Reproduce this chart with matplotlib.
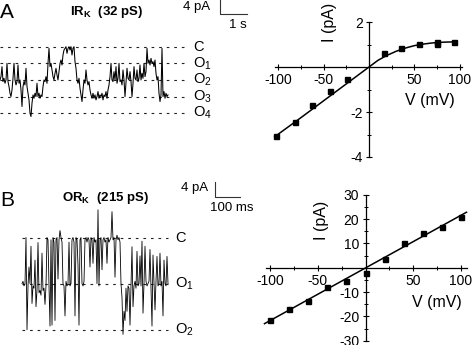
import numpy as np
import matplotlib
matplotlib.use("Agg")
import matplotlib.pyplot as plt
from matplotlib.ticker import FixedLocator, NullFormatter

plt.rcParams["font.family"] = ["Liberation Sans", "DejaVu Sans"]
plt.rcParams["mathtext.fontset"] = "custom"
plt.rcParams["mathtext.rm"] = "Liberation Sans"
plt.rcParams["mathtext.bf"] = "Liberation Sans:bold"
plt.rcParams["mathtext.default"] = "regular"
plt.rcParams["axes.unicode_minus"] = False

# ---------------------------------------------------------------------------
# data
# ---------------------------------------------------------------------------

# panel A trace, one sample per pixel, in conductance levels (0 = C, 1 = O1 ...)
trace_a_levels = [
    2.0, 1.8, 1.2, 2.1, 1.9, 2.2, 2.0, 1.0, 2.1, 2.4,
    2.8, 3.0, 2.6, 1.9, 1.0, 2.0, 2.3, 2.1, 1.1, 2.2,
    2.0, 2.6, 3.6, 2.4, 2.1, 2.3, 1.3, 2.4, 2.8, 3.2,
    4.0, 4.2, 3.4, 2.9, 3.1, 2.8, 3.0, 2.2, 3.0, 2.8,
    3.1, 2.9, 3.0, 2.4, 2.0, 2.1, 1.8, 2.2, 1.0, 0.1,
    1.2, 1.0, 1.4, 1.8, 2.0, 1.6, 1.3, 1.7, 2.0, 1.5,
    1.0, 0.8, 1.1, 0.5, 0.2, 0.1, 0.0, 0.4, 0.1, 0.0,
    0.2, 0.0, 0.5, 0.1, 0.0, 0.9, 1.3, 2.0, 2.2, 1.9,
    2.5, 2.9, 3.3, 2.6, 2.0, 2.2, 1.4, 2.0, 2.3, 2.1,
    2.6, 2.9, 3.1, 2.8, 3.1, 2.9, 3.2, 3.0, 2.7, 3.1,
    2.9, 3.0, 2.8, 3.2, 2.9, 3.0, 2.7, 3.1, 2.6, 2.3,
    1.8, 1.0, 2.0, 2.1, 1.5, 2.0, 1.2, 2.2, 1.9, 1.0,
    2.1, 2.0, 2.3, 1.4, 2.0, 3.0, 2.1, 1.3, 1.9, 2.0,
    1.5, 2.1, 3.0, 2.2, 1.2, 1.9, 2.0, 1.4, 2.1, 1.9,
    1.1, 2.0, 1.6, 1.9, 1.0, 1.8, 1.5, 0.1, 1.0, 0.8,
    1.1, 0.7, 1.0, 0.9, 1.2, 0.8, 1.6, 2.0, 1.8, 2.8,
    3.3, 2.9, 0.1, 3.0, 2.7, 3.1, 2.8, 3.0, 2.9,
]
unit_a = 4.75          # pA per level
levels_a = ["C", "O$_1$", "O$_2$", "O$_3$", "O$_4$"]

# panel B trace, one sample per pixel, in levels (0 = C, 1 = O1, 2 = O2)
trace_b_levels = [
    1.00, 0.95, 1.05, 1.00, 0.00, 2.00, 1.05, 0.64, 1.00, 0.19,
    1.43, 1.05, 1.10, 0.49, 1.50, 1.15, 0.11, 1.20, 1.15, 1.25,
    0.34, 1.15, 1.10, 1.45, 1.05, 0.00, 0.05, 1.05, 1.92, 0.05,
    1.90, 0.00, 0.10, 1.80, 0.05, 0.00, 0.90, 0.05, -0.15, 0.00,
    0.10, 1.00, 1.05, 1.70, 0.95, 1.05, 1.00, 0.10, 1.05, 1.00,
    0.05, 0.00, 0.10, 1.70, 0.00, 0.05, 0.60, 1.90, 0.05, 0.00,
    1.00, 1.05, 0.95, 0.05, 0.00, 0.10, 0.00, 0.05, 0.64, 0.00,
    0.05, 0.56, 0.00, 0.10, 0.05, 1.00, -0.60, 1.05, 0.05, 0.00,
    0.70, 0.05, 0.00, 0.10, 0.05, 0.56, 0.00, 0.10, 0.05, 0.00,
    -0.56, 0.05, 0.00, 0.86, 0.05, -0.05, 0.05, 0.00, 0.10, 1.00,
    1.30, 2.10, 1.60, 1.80, 1.10, 1.60, 1.05, 1.10, 1.90, 1.00,
    0.20, 1.50, 1.05, 0.95, 1.10, 0.30, 1.05, 1.00, 0.40, 1.05,
    0.08, 1.64, 1.00, 0.19, 0.95, 1.05, 1.00, 0.95, 0.26, 1.05,
    1.92, 0.38, 1.00, 1.57, 0.95, 0.41, 1.05, 1.00, 0.34, 1.05,
    0.95, 1.70, 0.49, 1.00, 1.05, 0.41, 1.00,
]
unit_b = 12.3          # pA per level
levels_b = ["C", "O$_1$", "O$_2$"]

# I-V relations
iv_a_v = [-102, -82, -63, -43, -24, 16, 35, 55, 75, 75, 94]
iv_a_i = [-3.07, -2.43, -1.70, -1.05, -0.55, 0.64, 0.83, 1.04, 1.10, 1.04, 1.12]
fit_a_v = [-104, -75, -50, -25, -10, 0, 10, 20, 30, 40, 50, 60, 70, 80, 95]
fit_a_i = [-3.10, -2.25, -1.50, -0.75, -0.30, 0.0, 0.30, 0.52, 0.70, 0.84,
           0.95, 1.02, 1.07, 1.10, 1.12]

iv_b_v = [-100, -80, -60, -40, -20, 0, 20, 40, 60, 80, 100]
iv_b_i = [-21.5, -17.1, -13.6, -7.8, -5.3, -2.3, 3.7, 10.3, 14.1, 16.8, 20.8]
fit_b_v = [-106, 106]
fit_b_i = [-23.0, 22.8]

# ---------------------------------------------------------------------------
# layout (pixel geometry of the 474 x 345 reference)
# ---------------------------------------------------------------------------
W, H = 474, 345
fig = plt.figure(figsize=(W / 100, H / 100), dpi=100)


def add_axes_px(x_of_zero, px_per_x, y_of_zero, px_per_y, xlim, ylim):
    """Axes whose data units land on the given pixel mapping."""
    left = x_of_zero + xlim[0] * px_per_x
    right = x_of_zero + xlim[1] * px_per_x
    top = y_of_zero - ylim[1] * px_per_y
    bottom = y_of_zero - ylim[0] * px_per_y
    ax = fig.add_axes([left / W, 1 - bottom / H, (right - left) / W, (bottom - top) / H])
    ax.set_xlim(xlim)
    ax.set_ylim(ylim)
    return ax


def draw_trace(ax, t, cur, level_currents, level_names, dash_end, label_x, lw=0.6, fs=10.5):
    for lc, name in zip(level_currents, level_names):
        ax.plot([t[0], dash_end], [lc, lc], color="#222222", lw=0.8,
                linestyle=(0, (2.4, 4.4)), zorder=1)
        ax.text(label_x, lc, name, ha="left", va="center", fontsize=fs)
    ax.plot(t, cur, color="black", lw=lw, zorder=2)
    ax.axis("off")


# --- panel A trace -------------------------------------------------------
px_s = 27.0        # px per second
px_pa_a = 3.5      # px per pA
ax_ta = add_axes_px(0, px_s, 46.7, px_pa_a, (0, 240 / px_s), (-(135 - 46.7) / px_pa_a, 46.7 / px_pa_a))
t_a = np.arange(len(trace_a_levels)) / px_s
i_a = -np.array(trace_a_levels) * unit_a
draw_trace(ax_ta, t_a, i_a, [-k * unit_a for k in range(len(levels_a))], levels_a,
           185 / px_s, 193 / px_s, lw=0.75)
# scale bar 4 pA / 1 s
sb_x, sb_y = 220 / px_s, (46.7 - 14) / px_pa_a
ax_ta.plot([sb_x, sb_x, sb_x + 1], [sb_y + 4, sb_y, sb_y], color="#333333", lw=0.8, clip_on=False)
ax_ta.text(sb_x - 10 / px_s, sb_y + 1.9, "4 pA", ha="right", va="center", fontsize=9.5)
ax_ta.text(sb_x + 0.68, sb_y - 3.1, "1 s", ha="center", va="center", fontsize=9.5)
ax_ta.text(107 / px_s, (46.7 - 12) / px_pa_a, r"IR$\mathbf{_K}$  (32 pS)",
           ha="center", va="center", fontsize=9.5, fontweight="bold")
ax_ta.text(0, (46.7 - 12) / px_pa_a, "A", ha="left", va="center", fontsize=15)

# --- panel B trace -------------------------------------------------------
px_ms = 0.25       # px per ms
px_pa_b = 3.75     # px per pA
ax_tb = add_axes_px(0, px_ms, 237.5, px_pa_b, (0, 240 / px_ms),
                    (-(345 - 237.5) / px_pa_b, (237.5 - 170) / px_pa_b))
t_b = (22 + np.arange(len(trace_b_levels))) / px_ms
i_b = -np.array(trace_b_levels) * unit_b
draw_trace(ax_tb, t_b, i_b, [-k * unit_b for k in range(len(levels_b))], levels_b,
           168 / px_ms, 175 / px_ms)
sb_x, sb_y = 215 / px_ms, (237.5 - 196.7) / px_pa_b
ax_tb.plot([sb_x, sb_x, sb_x + 100], [sb_y + 4, sb_y, sb_y], color="#333333", lw=0.8, clip_on=False)
ax_tb.text(sb_x - 7 / px_ms, sb_y + 2.3, "4 pA", ha="right", va="center", fontsize=9.5)
ax_tb.text(232 / px_ms, sb_y - 3.0, "100 ms", ha="center", va="center", fontsize=9.5)
ax_tb.text(106 / px_ms, (237.5 - 198) / px_pa_b, r"OR$\mathbf{_K}$  (215 pS)",
           ha="center", va="center", fontsize=9.5, fontweight="bold")
ax_tb.text(0, (237.5 - 200) / px_pa_b, "B", ha="left", va="center", fontsize=15)


# --- I-V plots -------------------------------------------------------------
def style_iv(ax, xmaj, xmin, ymaj, ymin, xbounds, ybounds):
    for side in ("top", "right"):
        ax.spines[side].set_visible(False)
    ax.spines["left"].set_position(("data", 0))
    ax.spines["bottom"].set_position(("data", 0))
    ax.spines["left"].set_bounds(*ybounds)
    ax.spines["bottom"].set_bounds(*xbounds)
    for sp in ("left", "bottom"):
        ax.spines[sp].set_linewidth(0.9)
    ax.xaxis.set_major_locator(FixedLocator(xmaj))
    ax.xaxis.set_minor_locator(FixedLocator(xmin))
    ax.yaxis.set_major_locator(FixedLocator(ymaj))
    ax.yaxis.set_minor_locator(FixedLocator(ymin))
    ax.yaxis.set_minor_formatter(NullFormatter())
    ax.tick_params(which="major", direction="inout", length=4, width=0.8, labelsize=10, pad=2.5)
    ax.tick_params(which="minor", direction="inout", length=2.5, width=0.7)
    ax.patch.set_visible(False)


ax_ia = add_axes_px(369, 0.907, 67, 22.5, (-110, 110), (-4.3, 2.3))
style_iv(ax_ia, [-100, -50, 50, 100], [-75, -25, 25, 75], [-4, -2, 2], [-3, -1, 1],
         (-104, 103), (-4, 2))
ax_ia.plot(fit_a_v, fit_a_i, color="black", lw=1.1)
ax_ia.plot(iv_a_v, iv_a_i, "s", color="black", ms=3.6, linestyle="none")
ax_ia.text(67, -1.47, "V (mV)", ha="center", va="center", fontsize=11.5)
ax_ia.text(-43, 2.0, "I (pA)", ha="center", va="center", rotation=90, fontsize=11.5)

ax_ib = add_axes_px(365.5, 0.953, 267.7, 2.433, (-110, 110), (-31.5, 31.5))
style_iv(ax_ib, [-100, -50, 50, 100], [-75, -25, 25, 75],
         [-30, -20, -10, 10, 20, 30], [-25, -15, -5, 5, 15, 25],
         (-104.6, 106), (-30, 30))
ax_ib.plot(fit_b_v, fit_b_i, color="black", lw=1.1)
ax_ib.plot(iv_b_v, iv_b_i, "s", color="black", ms=3.6, linestyle="none")
ax_ib.text(75, -14.5, "V (mV)", ha="center", va="center", fontsize=11.5)
ax_ib.text(-46, 19.6, "I (pA)", ha="center", va="center", rotation=90, fontsize=11.5)

fig.savefig("out.png", dpi=100)
